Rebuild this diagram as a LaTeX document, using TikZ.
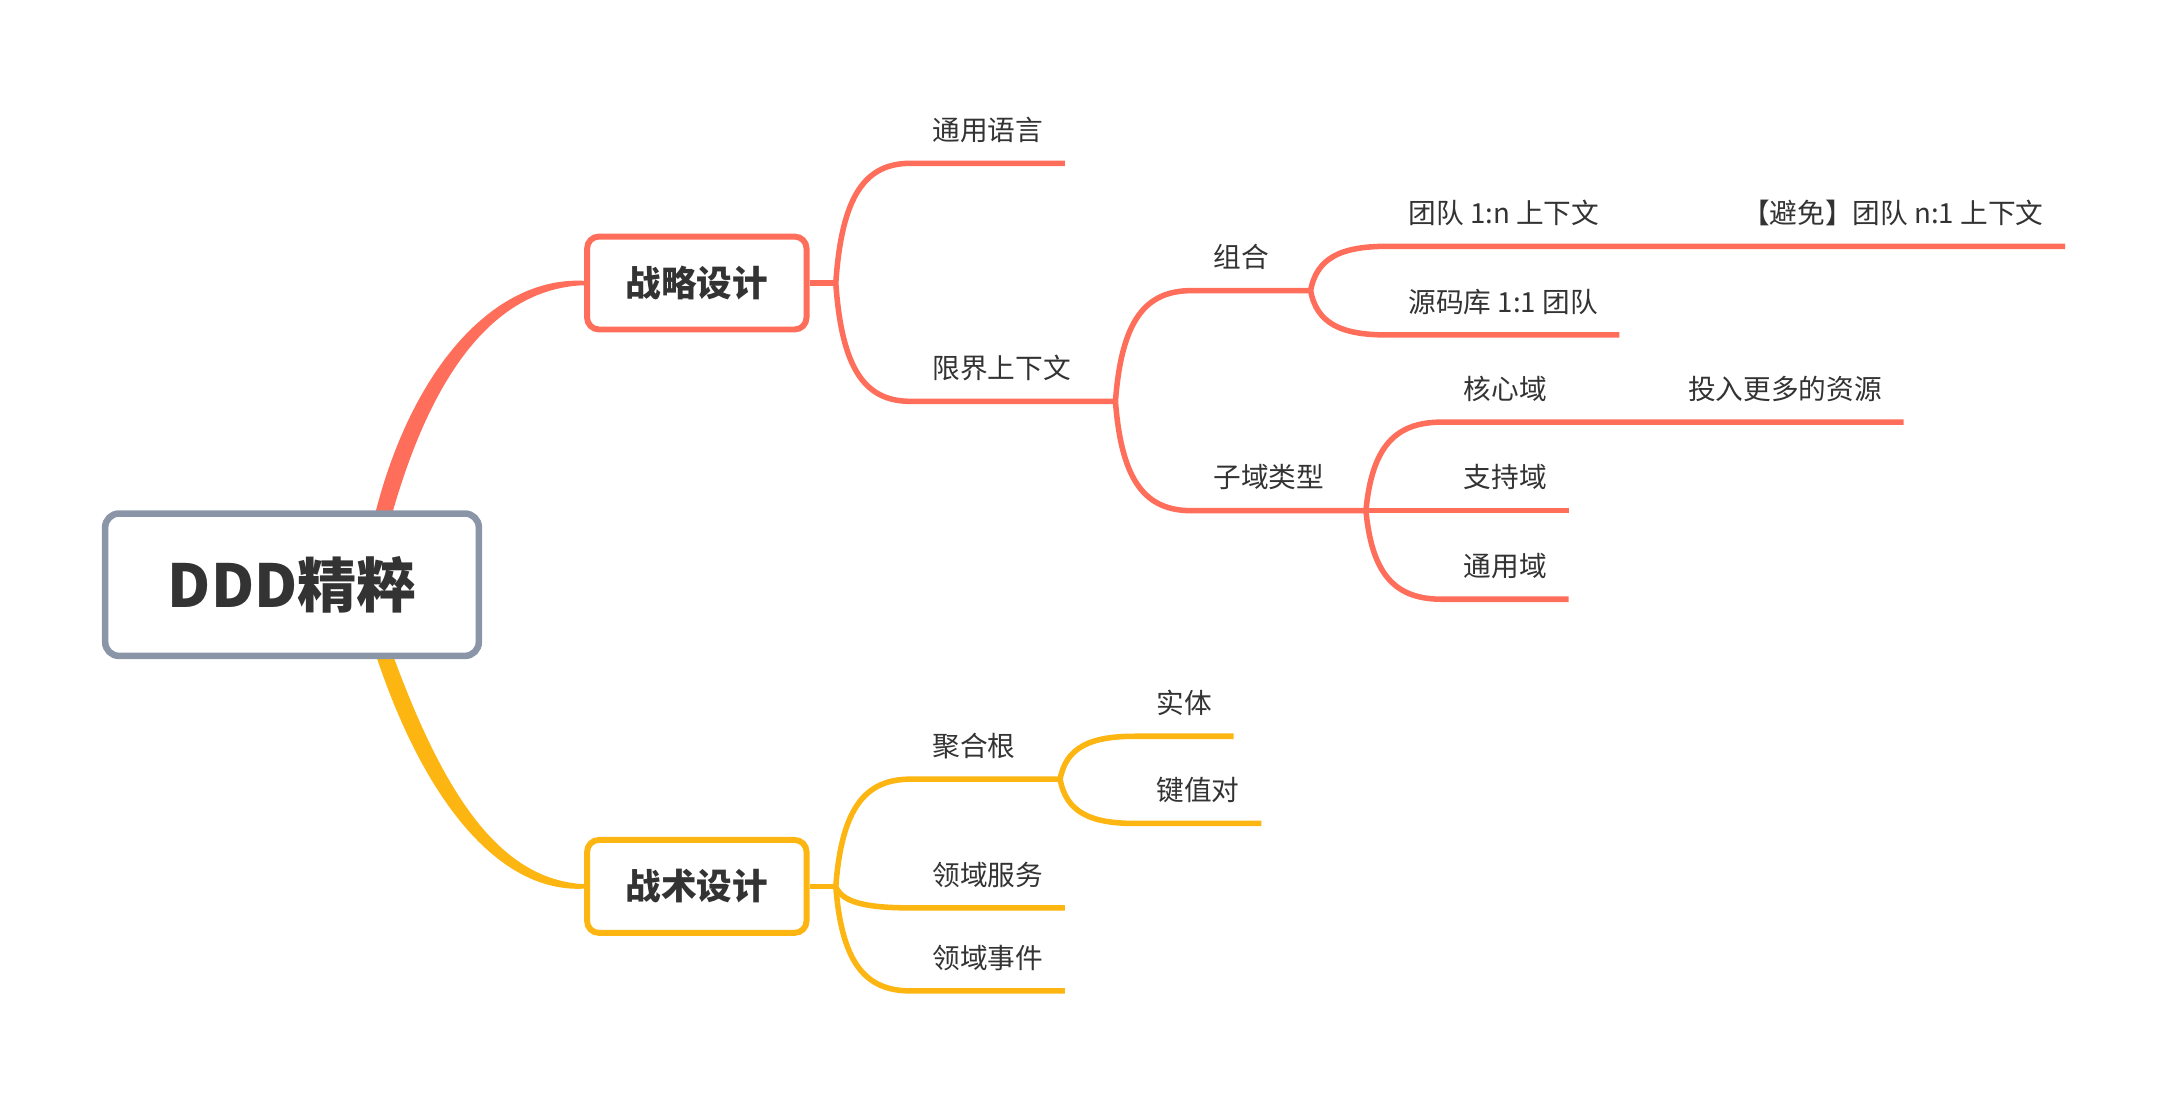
\documentclass[tikz,border=0pt]{standalone}
\usepackage{fontspec}
\setmainfont{Noto Sans CJK SC}
\usepackage{tikz}
\usetikzlibrary{calc,backgrounds}
\usepackage{xcolor}
\definecolor{coral}{RGB}{255,110,90}
\definecolor{amber}{RGB}{253,181,18}
\definecolor{rootgray}{RGB}{138,150,168}
\definecolor{ink}{RGB}{51,51,51}
\tikzset{
  rootbox/.style={rectangle, rounded corners=7pt, draw=rootgray, line width=3.3pt, fill=white,
                  minimum width=189pt, minimum height=72pt, text=ink,
                  font=\fontsize{30}{36}\selectfont\bfseries},
  topic/.style={rectangle, rounded corners=6pt, line width=3pt, fill=white,
                minimum width=111pt, minimum height=47pt, text=ink,
                font=\fontsize{18}{22}\selectfont\bfseries},
  topicred/.style={topic, draw=coral},
  topicamber/.style={topic, draw=amber},
  leaf/.style={anchor=south west, inner xsep=11pt, inner ysep=0pt, outer sep=0pt,
               text depth=11.5pt, text=ink, font=\fontsize{14}{17}\selectfont},
  branch/.style={to path={let \p1=(\tikztostart), \p2=(\tikztotarget) in
      .. controls ({\x1+0.08*(\x2-\x1)},{\y1+0.74*(\y2-\y1)}) and ({\x1+0.4*(\x2-\x1)},\y2) .. (\tikztotarget)}},
  linered/.style={draw=coral, line width=2.8pt},
  lineamber/.style={draw=amber, line width=2.8pt},
}
\begin{document}
\begin{tikzpicture}[x=0.7pt, y=-0.7pt]
\useasboundingbox (0,0) rectangle (1568,791);

\node[rootbox] (root) at (211,422.5) {DDD精粹};
\node[topicred] (strat) at (503.5,204.5) {战略设计};
\node[topicamber] (tact) at (503.5,640.5) {战术设计};

\coordinate (f1) at ($(strat.east)+(19,0)$);
\coordinate (f2) at (806,290);
\coordinate (f3) at (947,210);
\coordinate (f4) at (987,369);
\coordinate (f5) at ($(tact.east)+(19,0)$);
\coordinate (f6) at (766,563);

\node[leaf] (tyyy) at (658,118) {通用语言};
\node[leaf] (xjsxw) at (658,290) {限界上下文};
\node[leaf] (zh) at (861,210) {组合};
\node[leaf] (zylx) at (861,369) {子域类型};
\node[leaf] (td) at (1002,178) {团队 1:n 上下文};
\node[leaf] (bm) at (1243,178) {【避免】团队 n:1 上下文};
\node[leaf] (ymk) at (1002,242) {源码库 1:1 团队};
\node[leaf] (hxy) at (1042,305) {核心域};
\node[leaf] (trzy) at (1204,305) {投入更多的资源};
\node[leaf] (zcy) at (1042,369) {支持域};
\node[leaf] (tyy) at (1042,433) {通用域};

\node[leaf] (jhg) at (658,563) {聚合根};
\node[leaf] (st) at (820,532) {实体};
\node[leaf] (jzd) at (820,595) {键值对};
\node[leaf] (lyfw) at (658,656) {领域服务};
\node[leaf] (lysj) at (658,716) {领域事件};

\begin{scope}[on background layer]
\fill[coral] ($(root.north)+(58,11)$) .. controls (294.5,270) and (355,199.5) .. ($(strat.west)+(0,-1.6)$)
  -- ($(strat.west)+(0,1.6)$) .. controls (355,208.5) and (309.5,274) .. ($(root.north)+(70,11)$) -- cycle;
\fill[amber] ($(root.south)+(58,-11)$) .. controls (304.6,577.5) and (360,645.5) .. ($(tact.west)+(0,1.6)$)
  -- ($(tact.west)+(0,-1.6)$) .. controls (360,635.5) and (319.4,572.5) .. ($(root.south)+(70,-11)$) -- cycle;
\end{scope}

\draw[linered] (strat.east) -- (f1);
\draw[linered] (f1) to[branch] (xjsxw.south west) -- (f2);
\draw[linered] (f2) to[branch] (zh.south west) -- (f3);
\draw[linered] (f2) to[branch] (zylx.south west) -- (f4);
\draw[linered] (f3) to[branch] (td.south west) -- (bm.south east);
\draw[linered] (f4) to[branch] (hxy.south west) -- (trzy.south east);
\foreach \f/\leafname in {f1/tyyy, f3/ymk, f4/zcy, f4/tyy}
  \draw[linered] (\f) to[branch] (\leafname.south west) -- (\leafname.south east);

\draw[lineamber] (tact.east) -- (f5);
\draw[lineamber] (f5) to[branch] (jhg.south west) -- (f6);
\foreach \f/\leafname in {f6/st, f6/jzd, f5/lyfw, f5/lysj}
  \draw[lineamber] (\f) to[branch] (\leafname.south west) -- (\leafname.south east);
\end{tikzpicture}
\end{document}
